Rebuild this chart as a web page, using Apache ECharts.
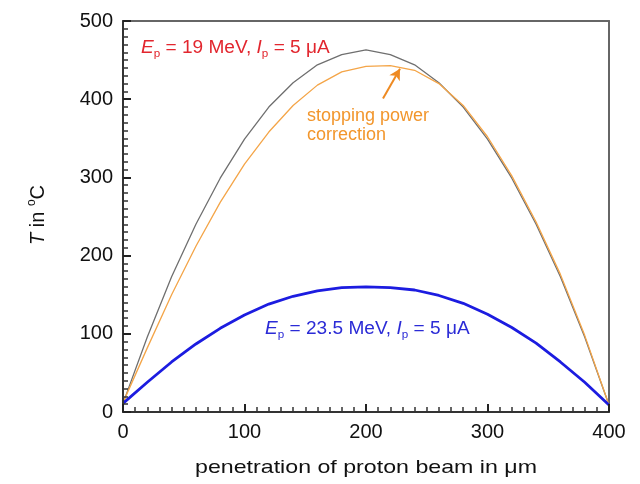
<!DOCTYPE html>
<html>
<head>
<meta charset="utf-8">
<script src="https://cdn.jsdelivr.net/npm/echarts@6/dist/echarts.min.js"></script>
<style>
  html, body { margin: 0; padding: 0; background: #fff; }
  #chart { width: 640px; height: 484px; }
</style>
</head>
<body>
<div id="chart"></div>
<script>
// Penetration depth of the proton beam (µm)
const depth = [0, 20, 40, 60, 80, 100, 120, 140, 160, 180, 200, 220, 240, 260, 280, 300, 320, 340, 360, 380, 400];
// Temperature (°C), Ep = 19 MeV, Ip = 5 µA, without correction
const temp19 = [11, 96, 173, 240, 299, 349, 390, 421, 444, 457, 463, 457, 444, 421, 390, 349, 299, 240, 173, 96, 9];
// Temperature (°C), Ep = 19 MeV, with stopping power correction
const temp19Corr = [12, 82, 150, 212, 268, 317, 358, 392, 418, 435, 442, 443, 437, 420, 392, 352, 302, 243, 176, 98, 9];
// Temperature (°C), Ep = 23.5 MeV, Ip = 5 µA
const temp235 = [11, 38, 64, 87, 107, 124, 138, 148, 155, 159, 160, 159, 156, 149, 139, 125, 108, 88, 64, 38, 9];
// Axis ticks (major step, minor step)
const xTicks = { min: 0, max: 400, step: 100, minor: 10 };
const yTicks = { min: 0, max: 500, step: 100, minor: 10 };
// Arrow pointing at the corrected curve: [depth, temperature]
const arrowFrom = [214, 401];
const arrowTo = [228, 439];

const pairs = (ys) => depth.map((d, i) => [d, ys[i]]);
const FONT = 'Liberation Sans, Arial, sans-serif';

const chart = echarts.init(document.getElementById('chart'), null, { renderer: 'canvas' });

// Main axis: line, inward major and minor ticks, labels
function mainAxis(t, pos) {
  return {
    type: 'value', position: pos, min: t.min, max: t.max, interval: t.step,
    axisLine: { show: true, onZero: false, lineStyle: { color: '#333', width: 2 } },
    axisTick: { show: true, inside: true, length: 8, lineStyle: { color: '#222', width: 2 } },
    minorTick: { show: true, splitNumber: t.step / t.minor, length: 5, lineStyle: { color: '#333', width: 1.5 } },
    splitLine: { show: false },
    axisLabel: { show: true, color: '#111', fontSize: 20, fontFamily: FONT, margin: 10 },
    z: 6
  };
}
// Opposite side of the frame: plain line, no ticks or labels
function frameAxis(t, pos) {
  return {
    type: 'value', position: pos, min: t.min, max: t.max, interval: t.step,
    axisLine: { show: true, onZero: false, lineStyle: { color: '#666', width: 2 } },
    axisTick: { show: false },
    minorTick: { show: false },
    splitLine: { show: false },
    axisLabel: { show: false }
  };
}

function labelText(color, energy, x, y) {
  return {
    type: 'text', x: x, y: y, scaleX: 1.06,
    style: {
      text: '{i|E}{s|p} = ' + energy + ' MeV, {i|I}{s|p} = 5 \u03bcA',
      fill: color, fontSize: 18, fontFamily: FONT, lineHeight: 22,
      align: 'left', verticalAlign: 'middle',
      rich: {
        i: { fontStyle: 'italic', fontSize: 18, fontFamily: FONT, fill: color, lineHeight: 22 },
        s: { fontSize: 11, fontFamily: FONT, fill: color, verticalAlign: 'bottom', lineHeight: 11 }
      }
    }
  };
}

chart.setOption({
  animation: false,
  backgroundColor: '#fff',
  grid: { left: 123, right: 31, top: 21, bottom: 72, show: false },
  xAxis: [mainAxis(xTicks, 'bottom'), frameAxis(xTicks, 'top')],
  yAxis: [mainAxis(yTicks, 'left'), frameAxis(yTicks, 'right')],
  series: [
    {
      type: 'line', name: '19 MeV', data: pairs(temp19), showSymbol: false,
      lineStyle: { color: '#6f6f6f', width: 1.3 }, z: 2
    },
    {
      type: 'line', name: '19 MeV corrected', data: pairs(temp19Corr), showSymbol: false,
      lineStyle: { color: '#f4a548', width: 1.3 }, z: 3,
      markLine: {
        silent: true, symbol: ['none', 'arrow'], symbolSize: [9, 11],
        label: { show: false },
        lineStyle: { color: '#ee8a22', width: 2, type: 'solid' },
        data: [[{ coord: arrowFrom }, { coord: arrowTo }]]
      }
    },
    {
      type: 'line', name: '23.5 MeV', data: pairs(temp235), showSymbol: false,
      lineStyle: { color: '#1c1ce0', width: 2.8 }, z: 4
    }
  ],
  graphic: [
    labelText('#e2262e', '19', 141, 48),
    labelText('#2b2bd6', '23.5', 265, 329),
    {
      type: 'text', x: 307, y: 126,
      style: {
        text: 'stopping power\ncorrection', fill: '#f2962c', fontSize: 18, fontFamily: FONT,
        lineHeight: 19, align: 'left', verticalAlign: 'middle'
      }
    },
    {
      type: 'text', x: 366, y: 468, scaleX: 1.22,
      style: {
        text: 'penetration of proton beam in \u03bcm', fill: '#111', fontSize: 19, fontFamily: FONT,
        align: 'center', verticalAlign: 'middle'
      }
    },
    {
      type: 'text', x: 38, y: 215, rotation: Math.PI / 2,
      style: {
        text: '{i|T} in {o|o}C', fill: '#111', fontSize: 20, fontFamily: FONT, lineHeight: 24,
        align: 'center', verticalAlign: 'middle',
        rich: {
          i: { fontStyle: 'italic', fontSize: 20, fontFamily: FONT, fill: '#111', lineHeight: 24 },
          o: { fontSize: 12, fontFamily: FONT, fill: '#111', verticalAlign: 'top', lineHeight: 12 }
        }
      }
    }
  ]
});
</script>
</body>
</html>
